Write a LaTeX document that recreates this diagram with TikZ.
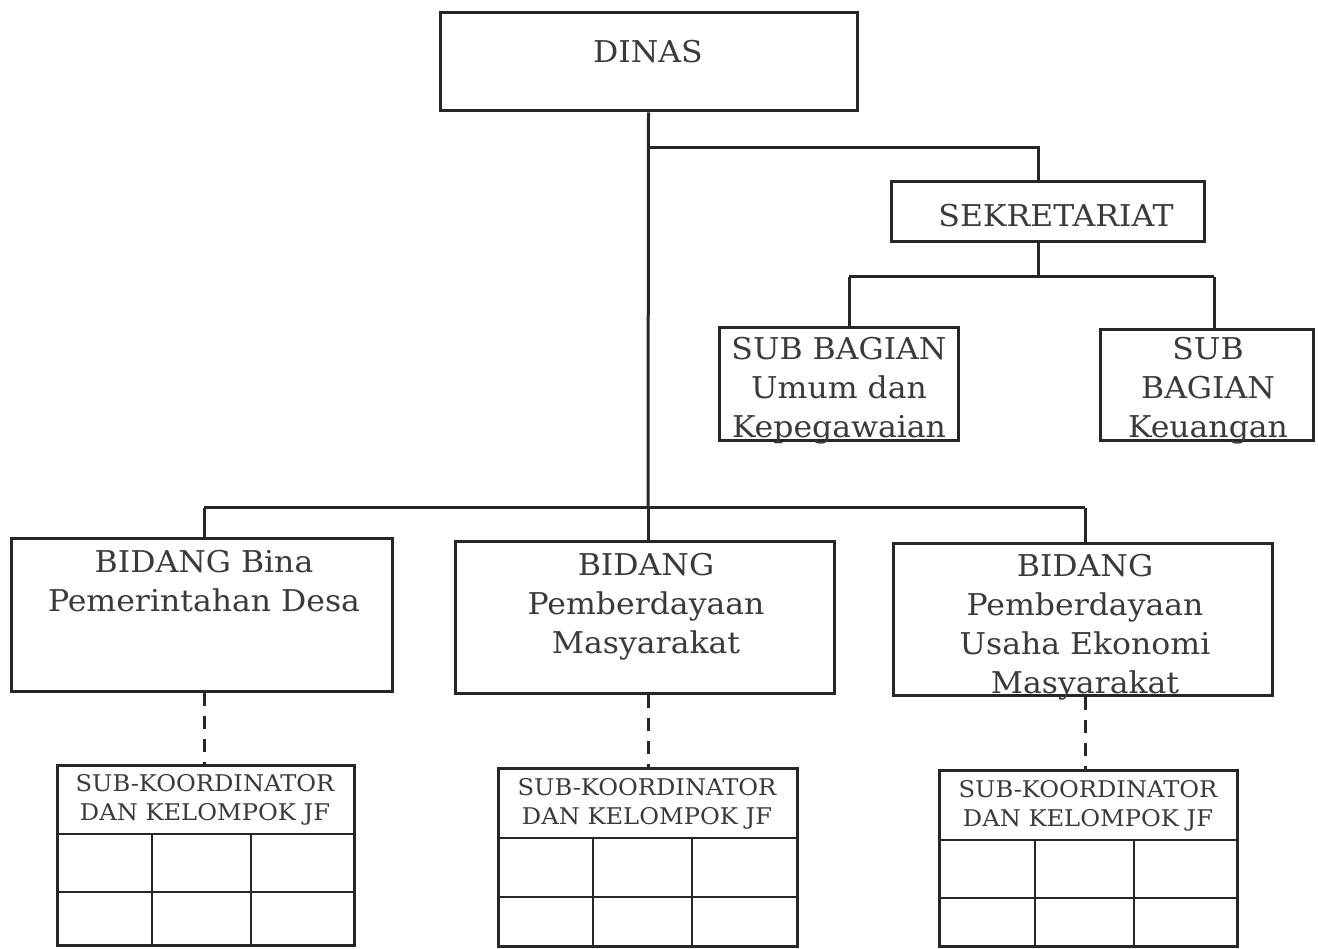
\documentclass[tikz,border=0pt]{standalone}
\usepackage{fontspec}
\setmainfont[FakeStretch=1.05]{DejaVu Serif}
\definecolor{ink}{HTML}{262626}
\definecolor{txtc}{HTML}{3A3A3A}
\begin{document}
\begin{tikzpicture}[x=1pt,y=-1pt,
  box/.style={draw=ink, line width=3pt, inner sep=0pt, fill=white},
  maintxt/.style={text=txtc, align=center, font=\fontsize{30}{39}\selectfont, inner sep=0pt},
  subtxt/.style={text=txtc, align=center, font=\fontsize{23}{29}\selectfont, inner sep=0pt},
  conn/.style={draw=ink, line width=3pt},
  dconn/.style={draw=ink, line width=3pt, dash pattern=on 13pt off 10pt},
  grid/.style={draw=ink, line width=2.2pt}]
\useasboundingbox[fill=white] (0,0) rectangle (1318,949);

% top level
\node[box, minimum width=417, minimum height=98] (dinas) at (648.5,62) {};
\node[maintxt] (dinast) at (648,52) {DINAS};

% secretariat
\node[box, minimum width=313, minimum height=60] (sek) at (1047.5,212) {};
\node[maintxt] (sekt) at (1056,216) {SEKRETARIAT};

\node[box, minimum width=239, minimum height=113] (sbu) at (838.5,384.5) {};
\node[maintxt] (sbut) at (839,391) {SUB BAGIAN\\Umum dan\\Kepegawaian};
\node[box, minimum width=213, minimum height=111] (sbk) at (1206.5,385.5) {};
\node[maintxt] (sbkt) at (1208,391) {SUB\\BAGIAN\\Keuangan};

% bidang
\node[box, minimum width=381, minimum height=153] (b1) at (202,614.5) {};
\node[maintxt, anchor=north] (b1t) at (204,550) {BIDANG Bina\\Pemerintahan Desa};
\node[box, minimum width=379, minimum height=152] (b2) at (645,617) {};
\node[maintxt, anchor=north] (b2t) at (646,553) {BIDANG\\Pemberdayaan\\Masyarakat};
\node[box, minimum width=379, minimum height=152] (b3) at (1083,619) {};
\node[maintxt, anchor=north] (b3t) at (1085,554) {BIDANG\\Pemberdayaan\\Usaha Ekonomi\\Masyarakat};

% coordinates for connectors
\coordinate (sekj) at (648,148);
\coordinate (sekx) at (1038,0);
\coordinate (subj) at (1038,277);
\coordinate (sbux) at (849,0);
\coordinate (sbkx) at (1214,0);
\coordinate (bus) at (648,508);
\coordinate (b1x) at (204,0);
\coordinate (b3x) at (1085,0);

% sub-koordinator tables
\node[box, minimum width=297, minimum height=180, fill=none] (k1) at (205.5,855) {};
\node[subtxt] (k1t) at (205,800) {SUB-KOORDINATOR\\DAN KELOMPOK JF};
\node[box, minimum width=299, minimum height=178, fill=none] (k2) at (647.5,857) {};
\node[subtxt] (k2t) at (647,804) {SUB-KOORDINATOR\\DAN KELOMPOK JF};
\node[box, minimum width=298, minimum height=176, fill=none] (k3) at (1088,858) {};
\node[subtxt] (k3t) at (1088,806) {SUB-KOORDINATOR\\DAN KELOMPOK JF};

% grids
\draw[grid] (k1.west |- 0,834) -- (k1.east |- 0,834);
\draw[grid] (k1.west |- 0,892) -- (k1.east |- 0,892);
\draw[grid] (152,834) -- (152,945);
\draw[grid] (251,834) -- (251,945);
\draw[grid] (k2.west |- 0,838) -- (k2.east |- 0,838);
\draw[grid] (k2.west |- 0,897) -- (k2.east |- 0,897);
\draw[grid] (593,838) -- (593,946);
\draw[grid] (692,838) -- (692,946);
\draw[grid] (k3.west |- 0,840) -- (k3.east |- 0,840);
\draw[grid] (k3.west |- 0,898) -- (k3.east |- 0,898);
\draw[grid] (1035,840) -- (1035,946);
\draw[grid] (1134,840) -- (1134,946);

% connectors
\draw[conn] (dinas.south) -- (bus);
\draw[conn] (sekj) -| (sek.north -| sekx);
\draw[conn] (sek.south -| sekx) -- (subj);
\draw[conn] (subj -| sbux) -- (subj -| sbkx);
\draw[conn] (subj -| sbux) -- (sbu.north -| sbux);
\draw[conn] (subj -| sbkx) -- (sbk.north -| sbkx);
\draw[conn] (bus -| b1x) -- (bus -| b3x);
\draw[conn] (bus -| b1x) -- (b1.north -| b1x);
\draw[conn] (bus) -- (b2.north -| bus);
\draw[conn] (bus -| b3x) -- (b3.north -| b3x);
\draw[dconn] (b1.south -| b1x) -- (k1.north -| b1x);
\draw[dconn] (b2.south -| bus) -- (k2.north -| bus);
\draw[dconn] (b3.south -| b3x) -- (k3.north -| b3x);
\end{tikzpicture}
\end{document}
